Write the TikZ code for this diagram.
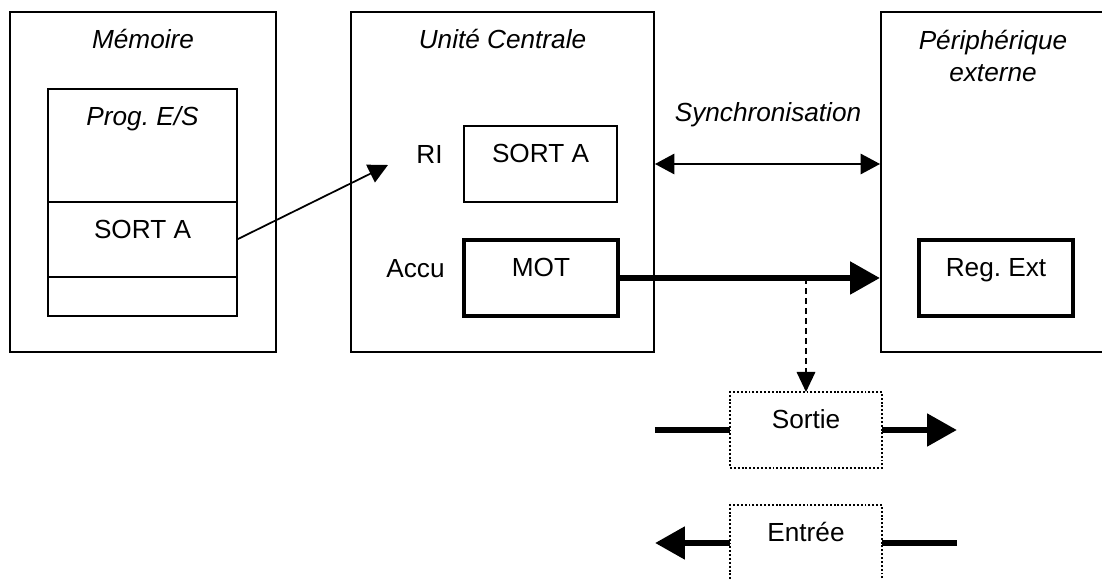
\documentclass[tikz,border=0pt]{standalone}
\usepackage{fontspec}
\setmainfont{Liberation Sans}
\usetikzlibrary{arrows.meta,positioning}
\frenchspacing
\newcommand{\figfont}{\fontsize{14.9}{18.2}\selectfont}
\tikzset{
  frame/.style={draw, line width=1.1pt, inner sep=0pt, minimum height=6.8cm},
  cell/.style={draw, line width=1.1pt, inner sep=0pt, outer sep=0pt, text height=7.4mm},
  regbox/.style={cell, line width=2.3pt},
  iobox/.style={cell, line width=1pt, dash pattern=on 1.1pt off 1.1pt, minimum width=3.04cm, text depth=7.8mm},
  heading/.style={font=\figfont\itshape, inner sep=0pt},
  title/.style={heading, text height=7.4mm, anchor=north},
  side/.style={inner sep=0pt, text height=7.4mm},
  fetch/.style={line width=1pt, -{Triangle[length=3.9mm,width=3.9mm]}},
  syncline/.style={line width=1pt, {Triangle[length=3.9mm,width=4.1mm]}-{Triangle[length=3.9mm,width=4.1mm]}},
  bus/.style={line width=3.8pt},
  busarrow/.style={bus, -{Triangle[length=6mm,width=6.3mm]}},
  tap/.style={line width=1pt, dash pattern=on 3.4pt off 2.3pt, -{Triangle[length=4mm,width=3.7mm]}}
}

\begin{document}
\begin{tikzpicture}[font=\figfont]
  \path[use as bounding box] (0,0) rectangle (22.04,-11.58);
  \clip (0,0) rectangle (22.04,-11.58);

  % memory
  \node[frame, minimum width=5.32cm] (mem) at (2.86,-3.64) {};
  \node[title] (memtitle) at (mem.north) {Mémoire};
  \node[cell, minimum width=3.78cm, text depth=15.2mm] (prog) at (2.85,-2.91) {\textit{Prog. E/S}};
  \node[cell, minimum width=3.78cm, text depth=7.6mm, below=0pt of prog] (memsort) {SORT A};
  \node[cell, minimum width=3.78cm, minimum height=7.8mm, below=0pt of memsort] (memfree) {};

  % central unit
  \node[frame, minimum width=6.06cm] (uc) at (10.05,-3.64) {};
  \node[title] (uctitle) at (uc.north) {Unité Centrale};
  \node[cell, minimum width=3.06cm, text depth=7.8mm] (ri) at (10.81,-3.28) {SORT A};
  \node[regbox, minimum width=3.08cm, text depth=7.8mm] (mot) at (10.82,-5.56) {MOT};
  \node[side, left=4.2mm of ri.north west, anchor=north east] (rilabel) {RI};
  \node[side, left=3.8mm of mot.north west, anchor=north east] (acculabel) {Accu};

  % peripheral
  \node[frame, minimum width=4.56cm] (per) at (19.90,-3.64) {};
  \node[heading, align=center] (pertitle) at (19.86,-1.12) {Périphérique\\externe};
  \node[regbox, minimum width=3.08cm, text depth=7.8mm] (reg) at (19.92,-5.56) {Reg. Ext};

  % output / input buffers
  \node[iobox] (sortie) at (16.12,-8.60) {Sortie};
  \node[iobox] (entree) at (16.12,-10.86) {Entrée};

  \node[heading, anchor=base] (sync) at (15.36,-2.44) {Synchronisation};

  \coordinate (rifetch) at (7.76,-3.30);
  \coordinate (sortin) at (sortie.west -| uc.east);
  \coordinate (sortout) at ([xshift=1.5cm]sortie.east);
  \coordinate (entin) at ([xshift=1.5cm]entree.east);
  \coordinate (entout) at (entree.west -| uc.east);

  \draw[fetch] (memsort.east) -- (rifetch);
  \draw[syncline] (ri -| uc.east) -- (ri -| per.west);
  \draw[busarrow] (mot.east) -- (mot -| per.west);
  \draw[tap] (sortie.north |- mot.east) -- (sortie.north);
  \draw[bus] (sortin) -- (sortie.west);
  \draw[busarrow] (sortie.east) -- (sortout);
  \draw[bus] (entin) -- (entree.east);
  \draw[busarrow] (entree.west) -- (entout);
\end{tikzpicture}
\end{document}
